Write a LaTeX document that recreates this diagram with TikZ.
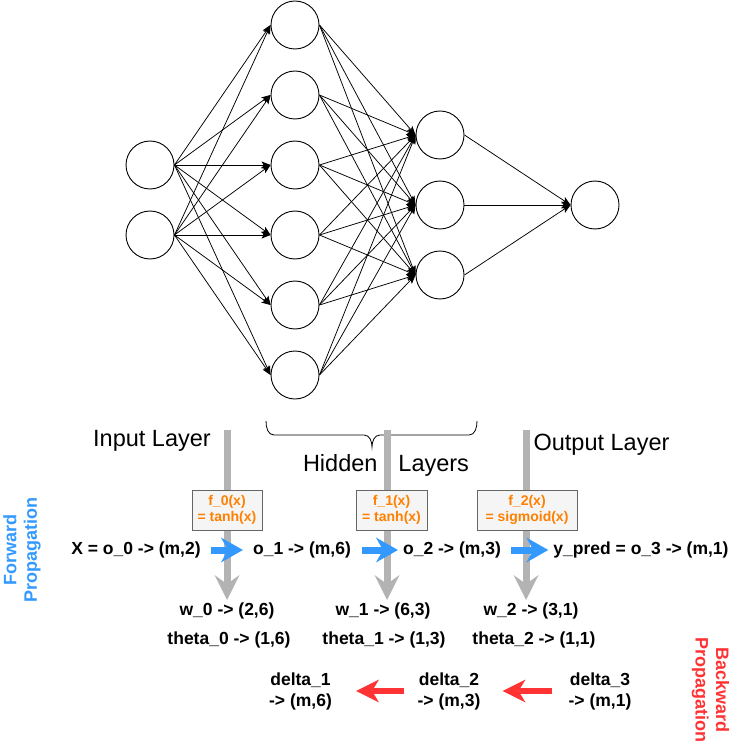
\documentclass[tikz,border=0pt]{standalone}
\usepackage{fontspec}
\setmainfont{Liberation Sans}
\usetikzlibrary{arrows.meta}
\definecolor{fwdblue}{HTML}{3399FF}
\definecolor{bwdred}{HTML}{FF3333}
\definecolor{actorange}{HTML}{FF8000}
\definecolor{flowgray}{HTML}{B3B3B3}
\definecolor{boxfill}{HTML}{F5F5F5}
\definecolor{boxdraw}{HTML}{666666}

\begin{document}
\begin{tikzpicture}[
  x=1pt, y=-1pt,
  neuron/.style={circle, draw=black, line width=0.9pt, minimum size=48pt, inner sep=0pt},
  synapse/.style={-{Stealth[length=9pt, width=7pt, inset=2pt]}, line width=0.75pt},
  layerlbl/.style={font=\fontsize{23.5}{28}\selectfont},
  dimlbl/.style={font=\fontsize{17.5}{21}\selectfont\bfseries, inner sep=0pt, align=center},
  actbox/.style={rectangle, draw=boxdraw, fill=boxfill, line width=0.8pt, minimum height=40pt,
    text=actorange, font=\fontsize{14}{16}\selectfont\bfseries, align=center, inner sep=0pt},
  flow/.style={line width=7pt, draw=flowgray, -{Stealth[length=25pt, width=25pt, inset=9pt, line width=0pt]}},
  fwd/.style={line width=7pt, draw=fwdblue, -{Stealth[length=22pt, width=25pt, inset=7pt, line width=0pt]}},
  bwd/.style={line width=6.5pt, draw=bwdred, -{Stealth[length=23pt, width=23pt, inset=7pt, line width=0pt]}},
  proplbl/.style={font=\fontsize{18}{20.5}\selectfont\bfseries, align=center},
]
\useasboundingbox (0,0) rectangle (742,751);

% === Network ===
\node[neuron] (in1) at (150,165) {};
\node[neuron] (in2) at (150,235) {};

\node[neuron] (hA1) at (295,25) {};
\node[neuron] (hA2) at (295,95) {};
\node[neuron] (hA3) at (295,165) {};
\node[neuron] (hA4) at (295,235) {};
\node[neuron] (hA5) at (295,305) {};
\node[neuron] (hA6) at (295,375) {};

\node[neuron] (hB1) at (440,135) {};
\node[neuron] (hB2) at (440,205) {};
\node[neuron] (hB3) at (440,275) {};

\node[neuron] (out) at (595,205) {};

\foreach \i in {1,2}
  \foreach \j in {1,...,6}
    \draw[synapse] (in\i.east) -- (hA\j.west);
\foreach \i in {1,...,6}
  \foreach \j in {1,2,3}
    \draw[synapse] (hA\i.east) -- (hB\j.west);
\foreach \i in {1,2,3}
  \draw[synapse] (hB\i.east) -- (out.west);

% === Layer labels ===
\draw[line width=0.8pt] (266,421) to[out=-90, in=180] (274,435) -- (364,435)
  to[out=0, in=90] (372,447) to[out=90, in=180] (380,435) -- (469,435)
  to[out=0, in=-90] (477,421);
\node[layerlbl] (inlbl) at (152,441) {Input Layer};
\node[layerlbl] (hidlbl) at (386,465) {Hidden\hspace{21pt}Layers};
\node[layerlbl] (outlbl) at (601.5,445) {Output Layer};

% === Gray flow arrows ===
\coordinate (g0a) at (227,430);
\coordinate (g0b) at (227,600);
\coordinate (g1a) at (387,430);
\coordinate (g1b) at (387,600);
\coordinate (g2a) at (526,430);
\coordinate (g2b) at (526,600);
\draw[flow] (g0a) -- (g0b);
\draw[flow] (g1a) -- (g1b);
\draw[flow] (g2a) -- (g2b);

% Activation boxes
\node[actbox, minimum width=70pt] (f0) at (227,510) {f\_0(x)\\= tanh(x)};
\node[actbox, minimum width=71pt] (f1) at (391.5,510) {f\_1(x)\\= tanh(x)};
\node[actbox, minimum width=100pt] (f2) at (527,510) {f\_2(x)\\= sigmoid(x)};

% === Forward row ===
\node[dimlbl] (o0) at (136,550) {X = o\_0 -> (m,2)};
\node[dimlbl] (o1) at (302,550) {o\_1 -> (m,6)};
\node[dimlbl] (o2) at (452,550) {o\_2 -> (m,3)};
\node[dimlbl] (o3) at (641,550) {y\_pred = o\_3 -> (m,1)};
\draw[fwd, shorten <=10pt, shorten >=10pt] (o0) -- (o1);
\draw[fwd, shorten <=11pt, shorten >=5pt] (o1) -- (o2);
\draw[fwd, shorten <=10pt, shorten >=5pt] (o2) -- (o3);

% Weights and biases
\node[dimlbl] (w0) at (227,611) {w\_0 -> (2,6)};
\node[dimlbl] (w1) at (383,611) {w\_1 -> (6,3)};
\node[dimlbl] (w2) at (531,611) {w\_2 -> (3,1)};
\node[dimlbl] (t0) at (229,640) {theta\_0 -> (1,6)};
\node[dimlbl] (t1) at (384,640) {theta\_1 -> (1,3)};
\node[dimlbl] (t2) at (534,640) {theta\_2 -> (1,1)};

% === Backward row ===
\node[dimlbl] (d1) at (300.5,691) {delta\_1\\-> (m,6)};
\node[dimlbl] (d2) at (449,691) {delta\_2\\-> (m,3)};
\node[dimlbl] (d3) at (600,691) {delta\_3\\-> (m,1)};
\draw[bwd, shorten <=13pt, shorten >=24pt] (d2) -- (d1);
\draw[bwd, shorten <=16pt, shorten >=22pt] (d3) -- (d2);

\node[proplbl, text=fwdblue, rotate=90] (fwdlbl) at (22,550) {Forward\\Propagation};
\node[proplbl, text=bwdred, rotate=-90] (bwdlbl) at (710.5,690) {Backward\\Propagation};

\end{tikzpicture}
\end{document}
